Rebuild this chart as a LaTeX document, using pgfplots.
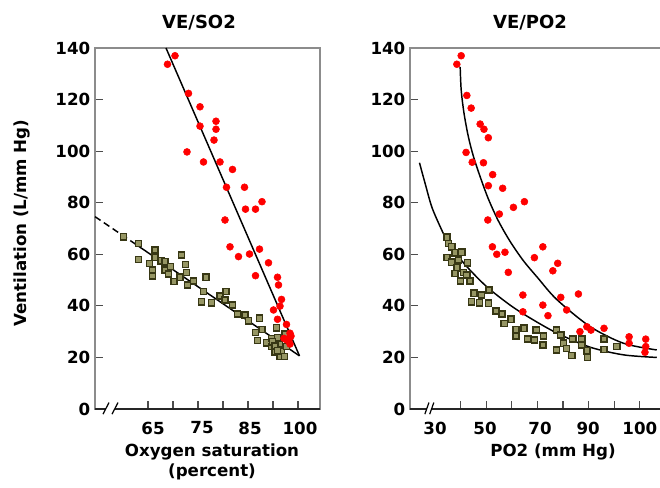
\documentclass[border=0pt]{standalone}
\usepackage{fontspec}
\setmainfont{DejaVu Sans}
\usepackage{pgfplots}
\pgfplotsset{compat=1.18}
\definecolor{framegray}{gray}{0.55}
\definecolor{olivefill}{RGB}{150,150,100}
\definecolor{olivedraw}{RGB}{55,55,20}
\definecolor{ptred}{RGB}{255,0,0}
\newcommand{\lblfont}{\fontsize{12.5}{15}\selectfont\bfseries}
\begin{document}
\begin{tikzpicture}
\pgfplotsset{
  every axis/.append style={
    scale only axis, height=270.75pt, ymin=0, ymax=140,
    axis line style={draw=framegray, line width=1.5pt},
    tick align=inside, xtick pos=lower, ytick pos=left,
    major tick length=6pt,
    tick style={draw=black!70, line width=0.9pt},
    ytick={0,20,...,140},
    ticklabel style={font=\lblfont},
    /pgf/number format/assume math mode=true,
    xticklabels={},
    extra x tick style={major tick length=0pt, tick style={draw=none}, xticklabel style={yshift=-6pt}},
    clip=false,
  },
  redpts/.style={only marks, mark=*, mark size=2.6pt, mark options={draw=ptred, fill=ptred}},
  grnpts/.style={only marks, mark=square*, mark size=2.3pt, mark options={draw=olivedraw, fill=olivefill, line width=1.1pt}},
  fitline/.style={black, line width=1.1pt},
}
% ---------- left: VE / SO2 ----------
\begin{axis}[at={(71.25pt,58.5pt)}, anchor=south west, width=168.75pt,
  xmin=54.4, xmax=99.4, xtick={65,70,...,95},
  extra x ticks={66,75.8,85.4,95.4}, extra x tick labels={65,75,85,100}]
\addplot[grnpts] coordinates {(60.1,66.8)(63.1,64.2)(63.1,58.0)(66.4,61.7)(66.4,58.8)(65.3,56.5)(65.9,53.9)(65.9,51.6)(67.6,57.5)(68.4,57.1)(68.4,53.9)(69.5,55.2)(69.1,52.3)(71.7,59.7)(72.5,56.1)(72.7,53.0)(71.4,51.1)(70.2,49.4)(72.9,48.1)(74.1,49.6)(76.6,51.1)(76.1,45.5)(75.7,41.6)(77.7,41.2)(79.4,43.8)(80.6,45.5)(80.4,42.3)(81.9,40.3)(82.9,36.8)(84.4,36.4)(85.1,34.2)(87.3,35.2)(86.5,29.6)(87.8,30.9)(86.9,26.5)(88.7,25.7)(89.7,27.4)(89.7,24.2)(90.7,31.5)(90.9,27.8)(90.4,22.2)(91.3,25.2)(91.7,22.2)(91.4,20.3)(92.3,20.3)(92.4,29.1)(92.7,24.2)(89.9,26.1)(90.4,24.4)(90.9,22.6)};
\addplot[redpts] coordinates {(70.4,137.0)(68.9,133.7)(73.1,122.4)(75.4,117.2)(78.6,111.6)(78.6,108.5)(75.4,109.7)(78.2,104.3)(72.8,99.7)(76.1,95.8)(79.4,95.8)(81.9,92.9)(80.7,86.0)(84.3,86.0)(87.8,80.4)(84.5,77.5)(86.5,77.5)(80.4,73.3)(81.4,62.9)(83.1,59.1)(85.3,60.1)(87.3,62.0)(89.1,56.7)(86.5,51.7)(90.9,51.1)(91.1,48.1)(91.7,42.5)(90.1,38.4)(91.4,39.9)(90.9,34.8)(92.7,32.8)(93.4,29.4)(92.2,27.4)(93.3,27.4)(93.4,25.2)(92.7,26.8)(93.6,28.3)};
\addplot[fitline] coordinates {(68.6,140) (95.3,20.6)};
\addplot[fitline, dash pattern=on 5pt off 3pt] coordinates {(54.4,74.6) (62,64.6)};
\addplot[fitline] coordinates {(62,64.6) (95.3,20.6)};
\draw[black!85, line width=1.5pt] (rel axis cs:0,0) -- (rel axis cs:1,0);
\fill[white] (axis cs:56.6,-1.2) rectangle (axis cs:58.4,1.2);
\draw[black, line width=0.9pt] (axis cs:56.0,-2) -- (axis cs:57.2,2.5) (axis cs:57.8,-2) -- (axis cs:59.0,2.5);
\end{axis}
% ---------- right: VE / PO2 ----------
\begin{axis}[at={(307.5pt,58.5pt)}, anchor=south west, width=188.7pt,
  xmin=20.2, xmax=118.5, xtick={40,50,...,110},
  extra x ticks={30,49.5,71,89.8,110}, extra x tick labels={30,50,70,90,100}]
\addplot[grnpts] coordinates {(34.6,66.6)(35.2,64.2)(36.5,62.9)(34.6,58.7)(37.8,60.6)(40.4,60.8)(36.5,56.9)(39.1,57.8)(42.6,56.7)(38.5,54.8)(37.8,52.6)(41.1,53.0)(40.0,49.6)(43.7,49.6)(42.4,52.0)(45.2,44.9)(48.2,44.2)(51.1,46.1)(44.3,41.6)(47.3,41.2)(50.8,41.0)(53.8,38.0)(56.1,36.8)(57.0,33.2)(59.7,34.8)(61.6,30.9)(61.6,28.3)(64.8,31.3)(66.2,27.1)(68.8,26.8)(69.5,30.6)(72.3,28.3)(72.1,24.8)(77.5,30.6)(79.1,28.7)(77.5,22.9)(80.1,25.5)(81.4,23.5)(83.4,20.7)(83.8,27.1)(87.3,27.1)(87.3,24.8)(89.3,22.6)(89.6,19.9)(96.0,27.1)(96.0,23.1)(101.0,24.2)};
\addplot[redpts] coordinates {(40.2,137.0)(38.5,133.7)(42.4,121.6)(44.1,116.7)(47.6,110.5)(49.1,108.5)(50.8,105.2)(42.1,99.5)(44.5,95.7)(48.9,95.5)(52.5,90.9)(50.8,86.6)(56.4,85.6)(60.6,78.2)(64.9,80.4)(55.1,75.6)(50.6,73.3)(52.4,62.9)(54.1,60.0)(57.3,60.8)(58.6,53.0)(68.8,58.7)(72.1,62.9)(77.9,56.5)(76.0,53.6)(64.3,44.2)(64.3,37.7)(72.1,40.3)(74.1,36.2)(79.1,43.3)(81.4,38.4)(86.0,44.6)(86.6,30.0)(89.3,31.9)(90.9,30.6)(96.0,31.3)(105.8,28.0)(105.8,25.5)(112.3,27.1)(112.3,24.2)(112.0,22.0)};
\addplot[fitline, smooth, tension=0.5] coordinates {(23.9,95.5)(26.1,87.5)(28.7,78.4)(32.0,70.7)(34.6,65.5)(38.5,60.0)(42.4,55.2)(50.2,47.4)(59.3,40.3)(67.1,35.3)(77.5,29.5)(90.5,24.0)(103.6,21.0)(116.6,20.0)};
\addplot[fitline, smooth, tension=0.5] coordinates {(39.8,132.7)(40.2,123.7)(41.3,114.7)(43.0,105.6)(45.0,97.9)(47.6,90.1)(50.8,81.5)(54.7,73.0)(59.3,65.0)(64.5,57.5)(70.0,51.0)(77.5,42.5)(90.5,32.0)(103.6,25.5)(116.6,22.9)};
\draw[black!85, line width=1.5pt] (rel axis cs:0,0) -- (rel axis cs:1,0);
\fill[white] (axis cs:26.8,-1.2) rectangle (axis cs:28.6,1.2);
\draw[black, line width=0.9pt] (axis cs:26.0,-2) -- (axis cs:27.6,2.5) (axis cs:27.9,-2) -- (axis cs:29.5,2.5);
\end{axis}
% ---------- texts ----------
\node[font=\fontsize{13.5}{16}\selectfont\bfseries] at (149.25pt,348pt) {VE/SO2};
\node[font=\fontsize{13.5}{16}\selectfont\bfseries] at (397.5pt,348pt) {VE/PO2};
\node[rotate=90, font=\lblfont] at (16.5pt,198pt) {Ventilation (L/mm Hg)};
\node[align=center, font=\lblfont] at (159pt,18.75pt) {Oxygen saturation\\(percent)};
\node[font=\lblfont] at (414.75pt,26.25pt) {PO2 (mm Hg)};
\pgfresetboundingbox
\path[use as bounding box] (0pt,0pt) rectangle (495pt,365.25pt);
\end{tikzpicture}
\end{document}
